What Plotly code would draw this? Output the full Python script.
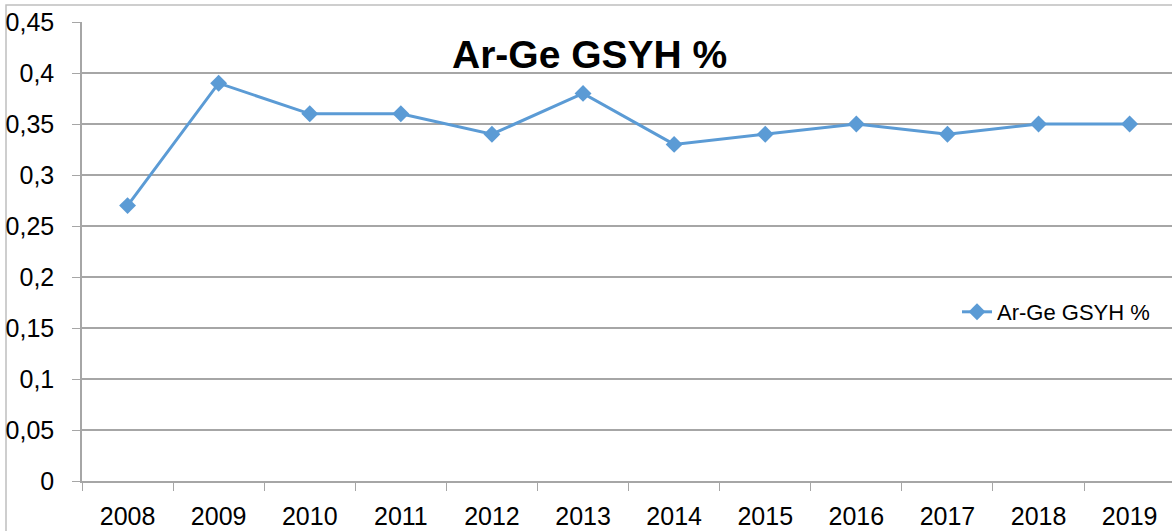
import plotly.graph_objects as go

years = ["2008", "2009", "2010", "2011", "2012", "2013", "2014", "2015", "2016", "2017", "2018", "2019"]
values = [0.27, 0.39, 0.36, 0.36, 0.34, 0.38, 0.33, 0.34, 0.35, 0.34, 0.35, 0.35]
series_name = "Ar-Ge GSYH %"
title_text = "Ar-Ge GSYH %"

W, H = 1172, 531
L, R, T, B = 82, 0, 22, 50
pw, ph = W - L - R, H - T - B

fig = go.Figure()
fig.add_trace(go.Scatter(
    x=years, y=values, name=series_name, mode="lines+markers",
    line=dict(color="#5b9bd5", width=3),
    marker=dict(symbol="diamond", size=13, color="#5b9bd5"),
))

grid = "#a6a6a6"
fig.update_layout(
    width=W, height=H,
    margin=dict(l=L, r=R, t=T, b=B, pad=0, autoexpand=False),
    paper_bgcolor="white", plot_bgcolor="white",
    separators=", ",
    font=dict(family="Liberation Sans, Arial, sans-serif", color="black"),
    showlegend=True,
    legend=dict(x=(957 - L) / pw, xanchor="left", y=(481 - 312) / ph, yanchor="middle",
                font=dict(size=22), bgcolor="rgba(0,0,0,0)"),
    xaxis=dict(type="category", range=[-0.5, 11.465], tickson="boundaries", automargin=False,
               ticks="outside", ticklen=8, tickcolor=grid, showgrid=False,
               showline=True, linecolor=grid, linewidth=1.5, zeroline=False,
               tickfont=dict(size=25), ticklabelstandoff=12),
    yaxis=dict(range=[0, 0.45], dtick=0.05, tick0=0, ticks="outside", ticklen=8, automargin=False,
               tickcolor=grid, showgrid=True, gridcolor=grid, gridwidth=1.5,
               showline=True, linecolor=grid, linewidth=1.5, zeroline=False,
               tickfont=dict(size=25), ticklabelstandoff=13),
    annotations=[dict(text="<b>" + title_text + "</b>", xref="paper", yref="paper",
                      x=(589 - L) / pw, y=(481 - 55) / ph, xanchor="center", yanchor="middle",
                      showarrow=False, font=dict(size=39, color="black"))],
    shapes=[dict(type="rect", xref="paper", yref="paper",
                 x0=(6 - L) / pw, x1=1.2, y0=-0.3, y1=(481 - 5) / ph,
                 line=dict(color="#bfbfbf", width=1.5), fillcolor="rgba(0,0,0,0)", layer="below")],
)

fig.write_html("out.html", config={"displayModeBar": False},
               post_script="document.body.style.margin='0';document.body.style.overflow='hidden';")
